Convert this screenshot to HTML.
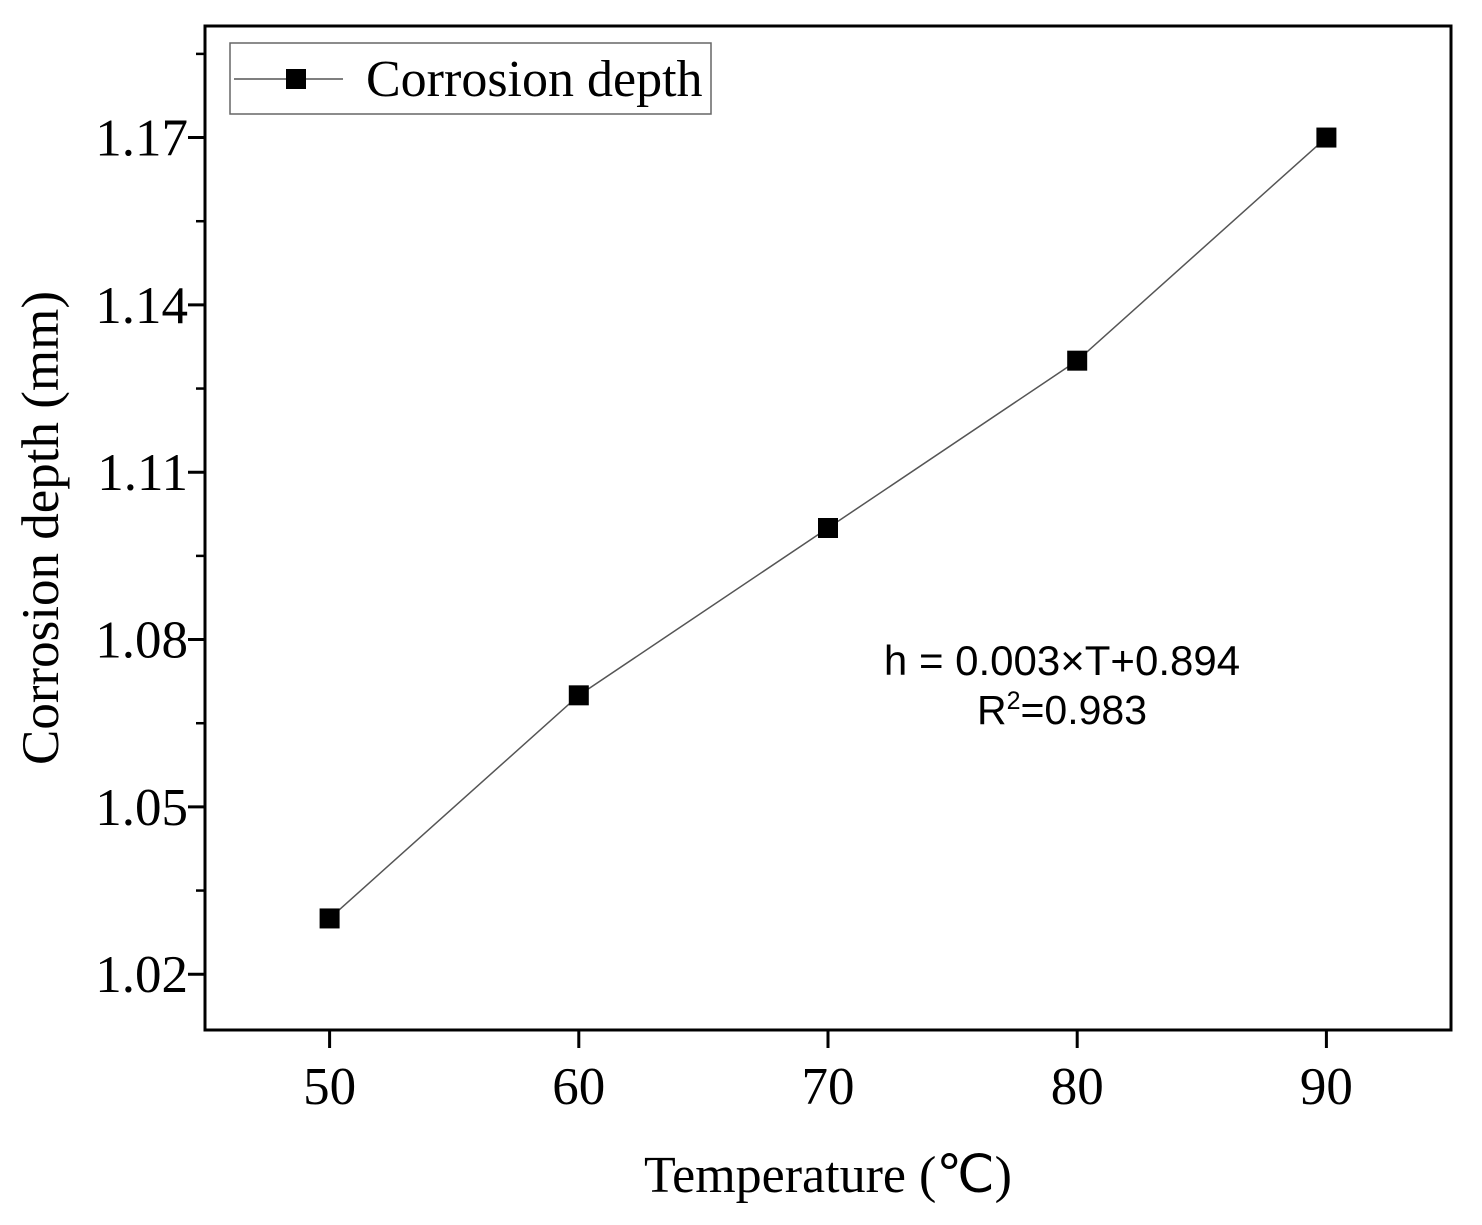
<!DOCTYPE html>
<html><head><meta charset="utf-8"><style>
html,body{margin:0;padding:0;background:#fff;}
svg{display:block;}
</style></head><body>
<svg id="chart" width="1482" height="1225" xmlns="http://www.w3.org/2000/svg" font-family="'Liberation Serif', serif"></svg>
<script>
const categories = [50, 60, 70, 80, 90];
const depthValues = [1.03, 1.07, 1.10, 1.13, 1.17];
const yTickLabels = ["1.02", "1.05", "1.08", "1.11", "1.14", "1.17"];
const xTickLabels = ["50", "60", "70", "80", "90"];

const L = 205, R = 1451, T = 26, B = 1030;
const xMin = 45, xMax = 95, yMin = 1.01, yMax = 1.19;
const xs = v => L + (v - xMin) / (xMax - xMin) * (R - L);
const ys = v => B - (v - yMin) / (yMax - yMin) * (B - T);
const svg = document.getElementById('chart');
const NS = 'http://www.w3.org/2000/svg';
function mk(tag, attrs, parent) {
  const e = document.createElementNS(NS, tag);
  for (const k in attrs) e.setAttribute(k, attrs[k]);
  (parent || svg).appendChild(e);
  return e;
}

const frame = mk('rect', {x: L, y: T, width: R - L, height: B - T, fill: 'none', stroke: '#000', 'stroke-width': 3});



yTickLabels.forEach(lbl => {
  const v = parseFloat(lbl);
  const y = ys(v);
  const t = mk('line', {x1: L - 17, x2: L, y1: y, y2: y, stroke: '#000', 'stroke-width': 3});
  
  
  const tx = mk('text', {x: L - 17, y: y + 18, 'text-anchor': 'end', 'font-size': 53});
  tx.textContent = lbl;
  
  
});
for (let v = 1.035; v <= 1.186; v += 0.03) {
  const y = ys(v);
  const t = mk('line', {x1: L - 9, x2: L, y1: y, y2: y, stroke: '#000', 'stroke-width': 2.5});
  
  
}
xTickLabels.forEach(lbl => {
  const x = xs(parseFloat(lbl));
  const t = mk('line', {x1: x, x2: x, y1: B, y2: B + 18, stroke: '#000', 'stroke-width': 3});
  
  
  const tx = mk('text', {x: x, y: B + 74, 'text-anchor': 'middle', 'font-size': 53});
  tx.textContent = lbl;
  
  
});

const xt = mk('text', {x: 828, y: 1192, 'text-anchor': 'middle', 'font-size': 52});
xt.textContent = 'Temperature (℃)';


const yt = mk('text', {x: 0, y: 0, 'text-anchor': 'middle', 'font-size': 53, transform: 'translate(58,528) rotate(-90)'});
yt.textContent = 'Corrosion depth (mm)';



const pts = categories.map((c, i) => xs(c) + ',' + ys(depthValues[i])).join(' ');
const pl = mk('polyline', {points: pts, fill: 'none', stroke: '#555', 'stroke-width': 1.5});


categories.forEach((c, i) => {
  const m = mk('rect', {x: xs(c) - 10, y: ys(depthValues[i]) - 10, width: 20, height: 20, fill: '#000'});
  
  
});

const lg = mk('g', {});


mk('rect', {x: 230, y: 43, width: 481, height: 71, fill: '#fff', stroke: '#666', 'stroke-width': 1.5}, lg);
mk('line', {x1: 234, x2: 343, y1: 79, y2: 79, stroke: '#555', 'stroke-width': 1.5}, lg);
mk('rect', {x: 286, y: 69, width: 20, height: 20, fill: '#000'}, lg);
const lt = mk('text', {x: 366, y: 96, 'font-size': 52}, lg);
lt.textContent = 'Corrosion depth';

const a1 = mk('text', {x: 1062, y: 675, 'text-anchor': 'middle', 'font-size': 42, 'font-family': "'Liberation Sans', sans-serif"});
a1.textContent = 'h = 0.003×T+0.894';


const a2 = mk('text', {x: 1062, y: 724, 'text-anchor': 'middle', 'font-size': 41, 'font-family': "'Liberation Sans', sans-serif"});
a2.innerHTML = 'R<tspan font-size="25" dy="-15">2</tspan><tspan dy="15">=0.983</tspan>';


</script>
</body></html>
